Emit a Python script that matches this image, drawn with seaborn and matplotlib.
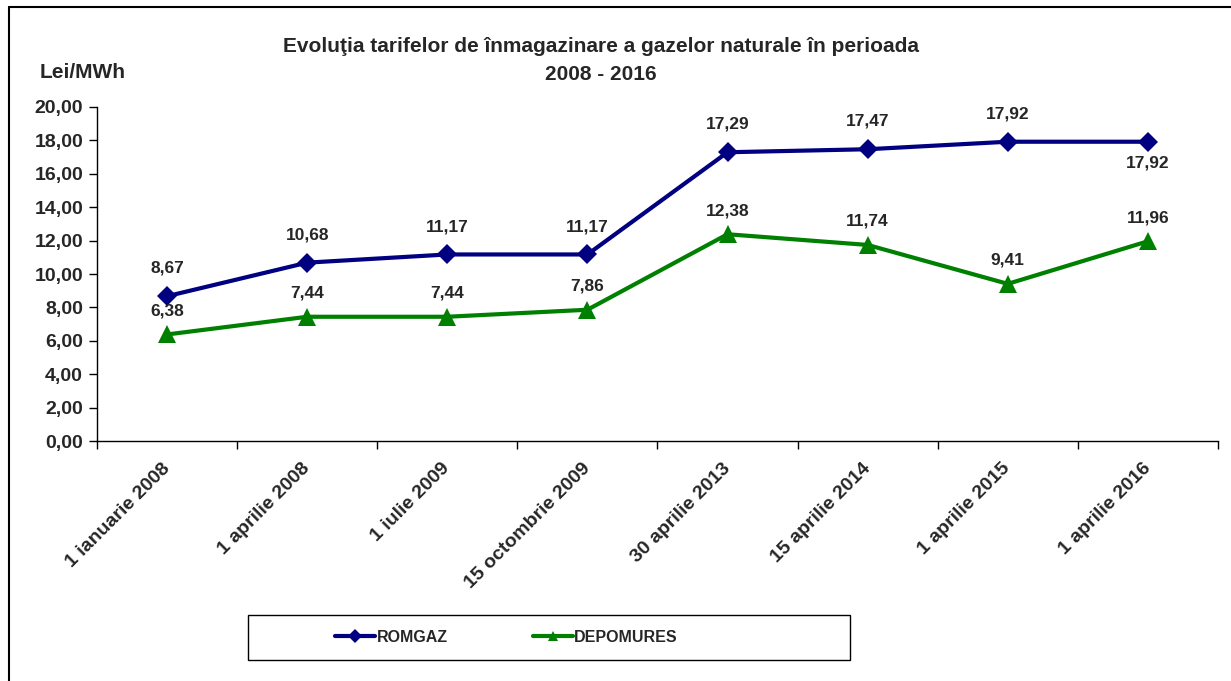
import numpy as np
import pandas as pd
import matplotlib
matplotlib.use('Agg')
import matplotlib.pyplot as plt
from matplotlib.lines import Line2D
import seaborn as sns

# Date labels for each tariff change
dates = ['1 ianuarie 2008', '1 aprilie 2008', '1 iulie 2009', '15 octombrie 2009',
         '30 aprilie 2013', '15 aprilie 2014', '1 aprilie 2015', '1 aprilie 2016']

# Storage tariffs in Lei/MWh
romgaz = [8.67, 10.68, 11.17, 11.17, 17.29, 17.47, 17.92, 17.92]
depomures = [6.38, 7.44, 7.44, 7.86, 12.38, 11.74, 9.41, 11.96]

series_names = ['ROMGAZ', 'DEPOMURES']
colors = {'ROMGAZ': '#000080', 'DEPOMURES': '#008000'}
markers = {'ROMGAZ': 'D', 'DEPOMURES': '^'}

df = pd.DataFrame({'Data': dates * 2,
                   'Tarif': romgaz + depomures,
                   'Operator': ['ROMGAZ'] * len(dates) + ['DEPOMURES'] * len(dates)})
df['Data'] = pd.Categorical(df['Data'], categories=dates, ordered=True)

sns.set_style('white')
plt.rcParams['font.family'] = ['Liberation Sans', 'DejaVu Sans']
plt.rcParams['font.weight'] = 'bold'

fig = plt.figure(figsize=(12.31, 6.81), dpi=100)
ax = fig.add_axes([0.0788, 0.3524, 0.9106, 0.4905])

sns.lineplot(data=df, x='Data', y='Tarif', hue='Operator', style='Operator',
             palette=colors, markers=markers, dashes=False, linewidth=3,
             markersize=10, markeredgewidth=0, legend=False, ax=ax, sort=False)
# triangles are a bit larger than the diamonds
for line in ax.lines:
    if line.get_marker() == '^':
        line.set_markersize(12.5)

# Value labels
fmt = lambda v: f'{v:.2f}'.replace('.', ',')
for i, v in enumerate(romgaz):
    off = -15 if i == len(romgaz) - 1 else 20
    ax.annotate(fmt(v), (i, v), xytext=(0, off), textcoords='offset points',
                ha='center', va='center', fontsize=12.5, fontweight='bold')
for i, v in enumerate(depomures):
    ax.annotate(fmt(v), (i, v), xytext=(0, 17), textcoords='offset points',
                ha='center', va='center', fontsize=12.5, fontweight='bold')

ax.set_xlim(-0.5, len(dates) - 0.5)
ax.set_ylim(0, 20)
ax.set_yticks(np.arange(0, 20.1, 2))
ax.set_yticklabels([fmt(t) for t in np.arange(0, 20.1, 2)], fontsize=14, fontweight='bold')

# category labels at centres, tick marks at boundaries
ax.set_xticks(np.arange(-0.5, len(dates), 1))
ax.set_xticklabels([])
ax.set_xticks(np.arange(len(dates)), minor=True)
ax.set_xticklabels(dates, minor=True, rotation=45, ha='right', va='center',
                   rotation_mode='anchor', fontsize=14, fontweight='bold')
ax.tick_params(axis='x', which='minor', length=0, pad=18)
ax.tick_params(axis='x', which='major', direction='out', length=6, width=1, color='black', bottom=True)
ax.tick_params(axis='y', direction='out', length=6, width=1, color='black', left=True, pad=4)
ax.set_xlabel('')
ax.set_ylabel('')
sns.despine(ax=ax)
for s in ['left', 'bottom']:
    ax.spines[s].set_color('black')
    ax.spines[s].set_linewidth(1)

fig.text(0.0325, 1 - 73 / 681, 'Lei/MWh', fontsize=15, fontweight='bold', va='center', ha='left')
fig.text(601 / 1231, 1 - 47 / 681, 'Evoluţia tarifelor de înmagazinare a gazelor naturale în perioada',
         fontsize=15, fontweight='bold', ha='center', va='center')
fig.text(601 / 1231, 1 - 75 / 681, '2008 - 2016', fontsize=15, fontweight='bold',
         ha='center', va='center')

# outer frame (top and left edges)
fig.add_artist(Line2D([9 / 1231, 9 / 1231], [0, 1 - 7 / 681], transform=fig.transFigure,
                      color='black', linewidth=1.5))
fig.add_artist(Line2D([9 / 1231, 1], [1 - 7 / 681, 1 - 7 / 681], transform=fig.transFigure,
                      color='black', linewidth=1.5))

# legend with a separate box
fig.add_artist(plt.Rectangle((248 / 1231, 1 - 660 / 681), 602 / 1231, 45 / 681,
                             transform=fig.transFigure, fill=False, edgecolor='black', linewidth=1))
handles = [Line2D([], [], color=colors[n], marker=markers[n], linewidth=3, markersize=7,
                  markeredgewidth=0) for n in series_names]
fig.legend(handles, series_names, loc='center left', bbox_to_anchor=(321 / 1231, 1 - 637 / 681),
           ncol=2, frameon=False, handlelength=2.5, handletextpad=0.1, columnspacing=5.3,
           prop={'weight': 'bold', 'size': 11.5})

fig.savefig('out.png', dpi=100)
